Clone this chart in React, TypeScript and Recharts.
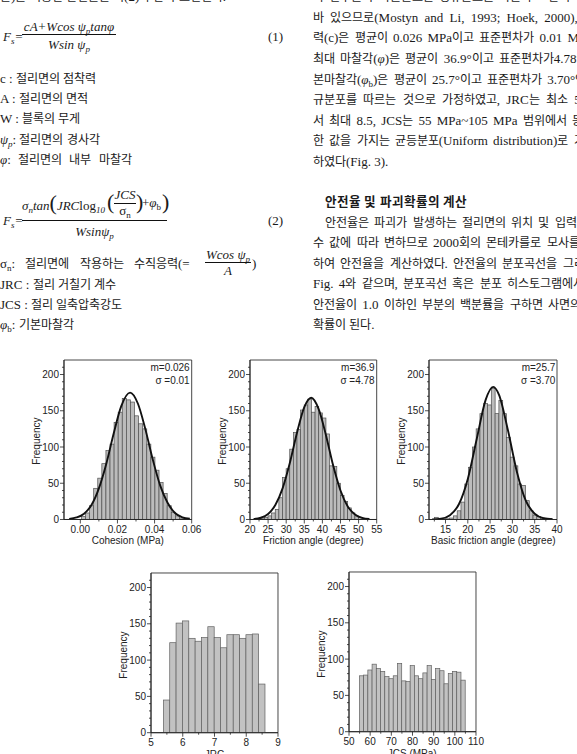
import React from "react"
import { ComposedChart, Bar, Line, XAxis, YAxis, ReferenceArea } from "recharts"

// Fig. 3 – histograms of 2000 Monte Carlo samples with fitted normal curves

const yMajors = [0, 50, 100, 150, 200]
const yMinors = [10, 20, 30, 40, 60, 70, 80, 90, 110, 120, 130, 140, 160, 170, 180, 190, 210]

// cohesion (MPa)
const cohBins = [0.0017, 0.0039, 0.0061, 0.0083, 0.0105, 0.0127, 0.0149, 0.0171, 0.0193, 0.0215, 0.0237, 0.0259, 0.0281, 0.0303, 0.0325, 0.0347, 0.0369, 0.0391, 0.0413, 0.0435, 0.0457, 0.0479, 0.0501, 0.0523, 0.0545]
const cohCounts = [4, 9, 19, 43, 57, 77, 95, 104, 134, 148, 167, 165, 162, 143, 132, 125, 104, 86, 68, 51, 36, 19, 10, 5, 2]
const cohFitX = [-0.006, -0.002, 0.002, 0.006, 0.010, 0.014, 0.018, 0.022, 0.0268, 0.031, 0.035, 0.039, 0.043, 0.047, 0.051, 0.055, 0.059]
const cohFitY = [0.8, 2.8, 8, 20, 43, 77, 119, 156, 175, 160, 125, 83, 47, 23, 9, 3, 1]
const cohTicks = [0, 0.02, 0.04, 0.06]
const cohMinor = [0.01, 0.03, 0.05]

// friction angle (degree)
const friBins = [22.5, 23.5, 24.5, 25.5, 26.5, 27.5, 28.5, 29.5, 30.5, 31.5, 32.5, 33.5, 34.5, 35.5, 36.5, 37.5, 38.5, 39.5, 40.5, 41.5, 42.5, 43.5, 44.5, 45.5, 46.5, 47.5, 48.5, 49.5, 50.5, 51.5]
const friCounts = [1, 2, 3, 5, 9, 14, 30, 58, 70, 97, 120, 124, 151, 158, 166, 148, 156, 147, 140, 118, 74, 73, 50, 33, 25, 16, 9, 5, 3, 1]
const friFitX = [21, 23, 25, 27, 29, 31, 33, 35, 36.9, 39, 41, 43, 45, 47, 49, 51, 53]
const friFitY = [0.7, 2.4, 7.6, 20, 43, 78, 120, 155, 168, 152, 116, 74, 40, 18, 7, 2.2, 0.6]
const friTicks = [20, 25, 30, 35, 40, 45, 50, 55]
const friMinor = [22.5, 27.5, 32.5, 37.5, 42.5, 47.5, 52.5]

// basic friction angle (degree)
const basBins = [12.95, 13.8, 14.65, 15.5, 16.35, 17.2, 18.05, 18.9, 19.75, 20.6, 21.45, 22.3, 23.15, 24.0, 24.85, 25.7, 26.55, 27.4, 28.25, 29.1, 29.95, 30.8, 31.65, 32.5, 33.35, 34.2, 35.05, 35.9, 36.75, 37.6, 38.45]
const basCounts = [3, 0, 1, 1, 2, 5, 12, 24, 49, 72, 100, 125, 146, 160, 158, 181, 146, 164, 146, 113, 86, 74, 49, 47, 26, 12, 6, 4, 2, 1, 1]
const basFitX = [12, 14, 16, 18, 20, 22, 24, 25.7, 27, 29, 31, 33, 35, 37, 39]
const basFitY = [0.2, 1.2, 6, 21, 56, 111, 165, 183, 172, 123, 66, 26, 8, 1.7, 0.3]
const basTicks = [15, 20, 25, 30, 35, 40]
const basMinor = [12.5, 17.5, 22.5, 27.5, 32.5, 37.5]

// JRC
const jrcBins = [5.5, 5.7, 5.9, 6.1, 6.3, 6.5, 6.7, 6.9, 7.1, 7.3, 7.5, 7.7, 7.9, 8.1, 8.3, 8.5]
const jrcCounts = [45, 124, 151, 154, 130, 126, 131, 146, 131, 117, 135, 135, 130, 135, 136, 67]
const jrcTicks = [5, 6, 7, 8, 9]
const jrcMinor = [5.5, 6.5, 7.5, 8.5]

// JCS (MPa)
const jcsBins = [56, 58, 60, 62, 64, 66, 68, 70, 72, 74, 76, 78, 80, 82, 84, 86, 88, 90, 92, 94, 96, 98, 100, 102, 104]
const jcsCounts = [77, 78, 85, 93, 87, 83, 76, 73, 77, 94, 70, 69, 91, 77, 73, 81, 91, 72, 87, 84, 66, 80, 83, 82, 71]
const jcsTicks = [50, 60, 70, 80, 90, 100, 110]
const jcsMinor = [55, 65, 75, 85, 95, 105]

const SANS = "'Liberation Sans', Arial, sans-serif"
const SERIF = "'Liberation Serif', 'KoText', 'Noto Sans CJK KR', serif"

type HistProps = {
  left: number
  top: number
  w: number
  h: number
  bins: number[]
  counts: number[]
  binW: number
  fitX?: number[]
  fitY?: number[]
  domain: [number, number]
  majors: number[]
  minors: number[]
  fmt: (v: number) => string
  title: string
  stats?: [string, string]
  fill: string
  edge: string
}

function Histogram(p: HistProps) {
  const ML = 40
  const MT = 10
  const rows = p.bins.map((x, i) => ({ x, n: p.counts[i] }))
  const fit = p.fitX ? p.fitX.map((x, i) => ({ x, fit: p.fitY![i] })) : null
  const bw = (p.binW * p.w) / (p.domain[1] - p.domain[0])
  const axisY = MT + p.h

  const xTick = (t: any) => {
    const v = t.payload.value
    const major = p.majors.some((m) => Math.abs(m - v) < 1e-9)
    return (
      <g>
        <line x1={t.x} x2={t.x} y1={axisY} y2={axisY + (major ? 4 : 2)} stroke="#222" strokeWidth={0.8} />
        {major && (
          <text x={t.x} y={axisY + 13.5} textAnchor="middle" fontSize={10} fontFamily={SANS} fill="#222">
            {p.fmt(v)}
          </text>
        )}
      </g>
    )
  }
  const yTick = (t: any) => {
    const v = t.payload.value
    const major = yMajors.includes(v)
    return (
      <g>
        <line x1={ML} x2={ML - (major ? 4 : 2)} y1={t.y} y2={t.y} stroke="#222" strokeWidth={0.8} />
        {major && (
          <text x={ML - 5} y={t.y + 3.6} textAnchor="end" fontSize={10} fontFamily={SANS} fill="#222">
            {v}
          </text>
        )}
      </g>
    )
  }
  const barShape = (s: any) => {
    if (!(s.height > 0)) return <g />
    const cx = s.x + s.width / 2
    return <rect x={cx - bw / 2} y={s.y} width={bw} height={s.height} fill={p.fill} stroke={p.edge} strokeWidth={0.7} />
  }

  return (
    <>
      <div style={{ position: "absolute", left: p.left - ML, top: p.top - MT }}>
        <ComposedChart
          width={p.w + 50}
          height={p.h + 50}
          data={rows}
          margin={{ top: MT, right: 10, left: 10, bottom: 10 }}
        >
          <XAxis
            type="number"
            dataKey="x"
            domain={p.domain}
            allowDataOverflow
            ticks={[...p.majors, ...p.minors].sort((a, b) => a - b)}
            interval={0}
            tickLine={false}
            tick={xTick}
            height={30}
            axisLine={{ stroke: "#222", strokeWidth: 0.9 }}
          />
          <YAxis
            type="number"
            domain={[0, 220]}
            allowDataOverflow
            ticks={[...yMajors, ...yMinors].sort((a, b) => a - b)}
            interval={0}
            tickLine={false}
            tick={yTick}
            width={30}
            axisLine={{ stroke: "#222", strokeWidth: 0.9 }}
          />
          <Bar dataKey="n" barSize={bw} shape={barShape} isAnimationActive={false} />
          {fit && (
            <Line
              data={fit}
              dataKey="fit"
              type="monotone"
              stroke="#111"
              strokeWidth={1.9}
              dot={false}
              activeDot={false}
              isAnimationActive={false}
            />
          )}
          <ReferenceArea
            x1={p.domain[0]}
            x2={p.domain[1]}
            y1={0}
            y2={220}
            fill="none"
            stroke="#333"
            strokeWidth={0.9}
            ifOverflow="visible"
          />
        </ComposedChart>
      </div>
      <div
        style={{
          position: "absolute",
          left: p.left - 27 - 30,
          top: p.top + p.h / 2 - 4,
          width: 60,
          height: 12,
          lineHeight: "12px",
          textAlign: "center",
          fontFamily: SANS,
          fontSize: 10,
          color: "#222",
          transform: "rotate(-90deg)",
        }}
      >
        Frequency
      </div>
      <div
        style={{
          position: "absolute",
          left: p.left,
          width: p.w,
          top: p.top + p.h + 16,
          lineHeight: "12px",
          textAlign: "center",
          fontFamily: SANS,
          fontSize: 10,
          color: "#222",
          whiteSpace: "nowrap",
        }}
      >
        {p.title}
      </div>
      {p.stats && (
        <div
          style={{
            position: "absolute",
            left: p.left + p.w - 80,
            width: 78,
            top: p.top + 1,
            lineHeight: "13.5px",
            textAlign: "right",
            fontFamily: SANS,
            fontSize: 10,
            color: "#222",
          }}
        >
          <div>{p.stats[0]}</div>
          <div>{p.stats[1]}</div>
        </div>
      )}
    </>
  )
}

const sub = { fontSize: 9, verticalAlign: "-3px", lineHeight: 0 } as const

function T({ x, y, children, s }: { x: number; y: number; children: React.ReactNode; s?: React.CSSProperties }) {
  return (
    <div style={{ position: "absolute", left: x, top: y - 9, lineHeight: "18px", whiteSpace: "nowrap", ...s }}>
      {children}
    </div>
  )
}

function Rule({ x, y, w }: { x: number; y: number; w: number }) {
  return <div style={{ position: "absolute", left: x, top: y, width: w, height: 0, borderTop: "1px solid #111" }} />
}

export default function App() {
  const it: React.CSSProperties = { fontStyle: "italic" }
  const ws: React.CSSProperties = { wordSpacing: 2 }
  return (
    <div
      style={{
        position: "fixed",
        left: 0,
        top: 0,
        width: 577,
        height: 754,
        overflow: "hidden",
        background: "#fff",
        fontFamily: SERIF,
        fontSize: 13,
        color: "#1a1a1a",
      }}
    >
      <style>{`
        @font-face { font-family: "KoText"; font-weight: 400;
          src: local("Noto Sans CJK KR"), local("Noto Sans CJK KR Regular"), local("NotoSansCJKkr-Regular");
          size-adjust: 93%; unicode-range: U+1100-11FF, U+3130-318F, U+AC00-D7AF; }
        @font-face { font-family: "KoText"; font-weight: 700;
          src: local("Noto Sans CJK KR Bold"), local("NotoSansCJKkr-Bold");
          size-adjust: 93%; unicode-range: U+1100-11FF, U+3130-318F, U+AC00-D7AF; }
      `}</style>

      {/* left column */}
      <T x={0} y={-3}>준)을 이용한 안전율은 식(2)와 같이 표현된다.</T>

      <T x={3} y={37} s={it}>F<span style={sub}>s</span>=</T>
      <T x={22} y={27} s={{ ...it, width: 94, textAlign: "center" }}>
        cA+Wcos ψ<span style={sub}>p</span>tanφ
      </T>
      <Rule x={22} y={34} w={94} />
      <T x={22} y={45} s={{ ...it, width: 94, textAlign: "center" }}>
        Wsin ψ<span style={sub}>p</span>
      </T>
      <T x={268} y={37}>(1)</T>

      <T x={0} y={79}>c : 절리면의 점착력</T>
      <T x={0} y={99}>A : 절리면의 면적</T>
      <T x={0} y={119}>W : 블록의 무게</T>
      <T x={0} y={140}><i>ψ<span style={sub}>p</span></i>: 절리면의 경사각</T>
      <T x={0} y={160} s={{ wordSpacing: 4 }}><i>φ</i>: 절리면의 내부 마찰각</T>

      <T x={22} y={203} s={it}>
        σ<span style={sub}>n</span>tan<span style={{ fontSize: 22, fontStyle: "normal" }}>(</span>JRC<span style={{ fontStyle: "normal" }}>log</span>
        <span style={sub}>10</span>
      </T>
      <T x={107} y={202} s={{ fontSize: 22 }}>(</T>
      <T x={114} y={195} s={{ ...it, width: 22, textAlign: "center" }}>JCS</T>
      <Rule x={114} y={203} w={22} />
      <T x={114} y={211} s={{ width: 22, textAlign: "center" }}>σ<span style={sub}>n</span></T>
      <T x={136} y={202} s={{ fontSize: 22 }}>)</T>
      <T x={142} y={203}>+<i>φ</i><span style={sub}>b</span></T>
      <T x={162} y={202} s={{ fontSize: 22 }}>)</T>
      <T x={3} y={221} s={it}>F<span style={sub}>s</span>=</T>
      <Rule x={22} y={220} w={145} />
      <T x={22} y={232} s={{ ...it, width: 145, textAlign: "center" }}>
        Wsinψ<span style={sub}>p</span>
      </T>
      <T x={268} y={221}>(2)</T>

      <T x={0} y={264} s={{ wordSpacing: 7 }}>σ<span style={sub}>n</span>: 절리면에 작용하는 수직응력(=</T>
      <T x={205} y={255} s={{ ...it, width: 46, textAlign: "center" }}>Wcos ψ<span style={sub}>p</span></T>
      <Rule x={205} y={262} w={46} />
      <T x={205} y={271} s={{ ...it, width: 46, textAlign: "center" }}>A</T>
      <T x={252} y={264}>)</T>
      <T x={0} y={285}>JRC : 절리 거칠기 계수</T>
      <T x={0} y={305}>JCS : 절리 일축압축강도</T>
      <T x={0} y={325}><i>φ</i><span style={sub}>b</span>: 기본마찰각</T>

      {/* right column */}
      <T x={313} y={-3} s={ws}>각 변수들의 확률분포는 정규분포를 따른다고 알려져</T>
      <T x={313} y={18} s={{ wordSpacing: 3 }}>바 있으므로(Mostyn and Li, 1993; Hoek, 2000), 점착</T>
      <T x={313} y={38} s={ws}>력(c)은 평균이 0.026 MPa이고 표준편차가 0.01 MPa, 최</T>
      <T x={313} y={59} s={ws}>최대 마찰각(<i>φ</i>)은 평균이 36.9°이고 표준편차가4.78°, 기</T>
      <T x={313} y={80} s={ws}>본마찰각(<i>φ</i><span style={sub}>b</span>)은 평균이 25.7°이고 표준편차가 3.70°인 정</T>
      <T x={313} y={100} s={{ wordSpacing: 3 }}>규분포를 따르는 것으로 가정하였고, JRC는 최소 5.5에</T>
      <T x={313} y={121} s={ws}>서 최대 8.5, JCS는 55 MPa~105 MPa 범위에서 동일</T>
      <T x={313} y={141} s={ws}>한 값을 가지는 균등분포(Uniform distribution)로 가정</T>
      <T x={313} y={162}>하였다(Fig. 3).</T>

      <T x={325} y={202} s={{ fontWeight: 700, fontSize: 13.5 }}>안전율 및 파괴확률의 계산</T>
      <T x={325} y={223} s={ws}>안전율은 파괴가 발생하는 절리면의 위치 및 입력변</T>
      <T x={313} y={243} s={ws}>수 값에 따라 변하므로 2000회의 몬테카를로 모사를 실시</T>
      <T x={313} y={264} s={ws}>하여 안전율을 계산하였다. 안전율의 분포곡선을 그리면</T>
      <T x={313} y={284} s={ws}>Fig. 4와 같으며, 분포곡선 혹은 분포 히스토그램에서</T>
      <T x={313} y={305} s={ws}>안전율이 1.0 이하인 부분의 백분률을 구하면 사면의 파괴</T>
      <T x={313} y={325}>확률이 된다.</T>

      {/* Fig. 3 */}
      <Histogram
        left={64} top={359.5} w={127.7} h={159.5}
        bins={cohBins} counts={cohCounts} binW={0.0022}
        fitX={cohFitX} fitY={cohFitY}
        domain={[-0.0088, 0.06]} majors={cohTicks} minors={cohMinor}
        fmt={(v) => v.toFixed(2)} title="Cohesion (MPa)" stats={["m=0.026", "σ =0.01"]}
        fill="#bcbcbc" edge="#505050"
      />
      <Histogram
        left={250} top={359.5} w={126.7} h={159.5}
        bins={friBins} counts={friCounts} binW={1}
        fitX={friFitX} fitY={friFitY}
        domain={[20, 55]} majors={friTicks} minors={friMinor}
        fmt={(v) => String(v)} title="Friction angle (degree)" stats={["m=36.9", "σ =4.78"]}
        fill="#bcbcbc" edge="#505050"
      />
      <Histogram
        left={429.3} top={359.5} w={128} h={159.5}
        bins={basBins} counts={basCounts} binW={0.85}
        fitX={basFitX} fitY={basFitY}
        domain={[11.3, 40]} majors={basTicks} minors={basMinor}
        fmt={(v) => String(v)} title="Basic friction angle (degree)" stats={["m=25.7", "σ =3.70"]}
        fill="#bcbcbc" edge="#505050"
      />
      <Histogram
        left={151} top={573.3} w={127} h={159.7}
        bins={jrcBins} counts={jrcCounts} binW={0.2}
        domain={[5, 9]} majors={jrcTicks} minors={jrcMinor}
        fmt={(v) => String(v)} title="JRC"
        fill="#c2c2c2" edge="#606060"
      />
      <Histogram
        left={348.7} top={572.3} w={127} h={159.7}
        bins={jcsBins} counts={jcsCounts} binW={2}
        domain={[50, 110]} majors={jcsTicks} minors={jcsMinor}
        fmt={(v) => String(v)} title="JCS (MPa)"
        fill="#c2c2c2" edge="#606060"
      />
    </div>
  )
}
